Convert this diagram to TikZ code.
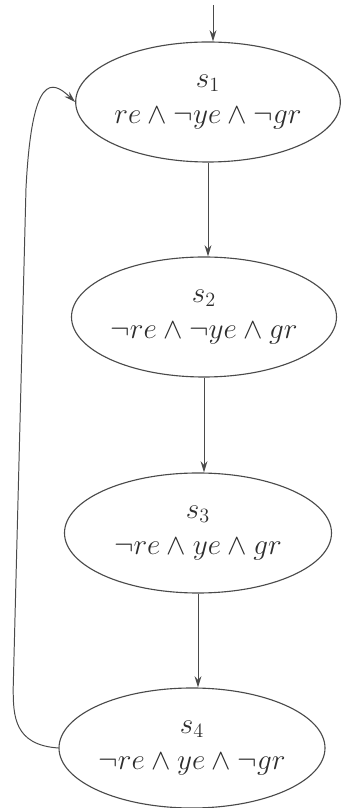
\documentclass[tikz,border=0pt]{standalone}
\usepackage{xcolor}
\usepackage{tikz}
\usepackage{amsmath}
\usetikzlibrary{arrows.meta,shapes.geometric}
\definecolor{stline}{HTML}{4a4a4a}
\definecolor{sttext}{HTML}{2e2e2e}

\begin{document}
\begin{tikzpicture}[x=1cm,y=1cm,
  state/.style={ellipse,draw=stline,line width=0.8pt,inner sep=0pt,align=center,
    text=sttext,font=\fontsize{21.5}{25.5}\selectfont,minimum height=3.0cm},
  arr/.style={draw=stline,line width=0.7pt,-{Stealth[length=2.8mm,width=1.7mm]}}]
  \useasboundingbox (0,0) rectangle (8.525,20.2);
  \node[state,minimum width=6.425cm] (s1) at (5.2000,17.6500) {$s_1$\\$re\wedge\neg ye\wedge\neg gr$};
  \node[state,minimum width=6.625cm] (s2) at (5.1000,12.2750) {$s_2$\\$\neg re\wedge\neg ye\wedge gr$};
  \node[state,minimum width=6.675cm] (s3) at (4.9500,6.8750) {$s_3$\\$\neg re\wedge ye\wedge gr$};
  \node[state,minimum width=6.650cm] (s4) at (4.8000,1.5000) {$s_4$\\$\neg re\wedge ye\wedge\neg gr$};
  \coordinate (init) at (5.3250,20.0800);
  \coordinate (loopa) at (0.3300,3.0000);
  \coordinate (loopb) at (0.6500,15.5000);
  \draw[arr] (init) -- (init |- s1.north);
  \draw[arr] (s1.south) -- (s1.south |- s2.north);
  \draw[arr] (s2.south) -- (s2.south |- s3.north);
  \draw[arr] (s3.south) -- (s3.south |- s4.north);
  \draw[arr] (s4.west) .. controls (0.3500,1.5750) and (0.3300,2.3000) .. (loopa)
    -- (loopb) .. controls (0.8000,18.4000) and (1.3000,18.2000) .. (s1.west);
\end{tikzpicture}
\end{document}
